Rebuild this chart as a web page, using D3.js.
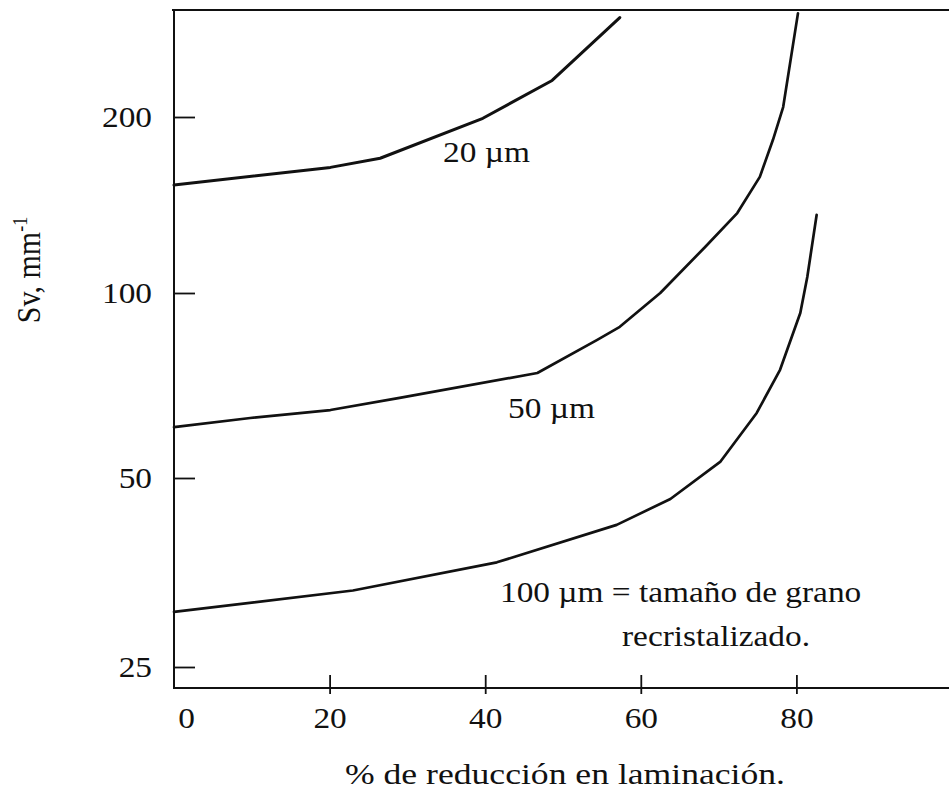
<!DOCTYPE html>
<html>
<head>
<meta charset="utf-8">
<script src="https://cdn.jsdelivr.net/npm/d3@7"></script>
<style>
  html, body { margin: 0; padding: 0; background: #fff; }
  svg { display: block; }
  text { font-family: "Liberation Serif", "Times New Roman", serif; fill: #111; }
</style>
</head>
<body>
<svg id="chart" width="949" height="796"></svg>
<script>
// ---- data ----
const xTicks = [0, 20, 40, 60, 80];
const yTicks = [25, 50, 100, 200];

const red20 = [0, 20.1, 26.5, 39.7, 48.6, 57.3];
const sv20  = [153, 164, 170, 199, 231, 296];

const red50 = [0, 9.8, 20.1, 29.0, 46.7, 54.4, 57.3, 62.5, 68.3, 72.4, 75.3, 77.0, 78.3, 80.2];
const sv50  = [60.5, 62.6, 64.5, 67.5, 74.1, 83.9, 88.1, 100, 120, 137, 158, 183, 208, 301];

const red100 = [0, 23.0, 41.5, 56.9, 63.8, 70.2, 74.9, 77.9, 80.5, 81.4, 82.6];
const sv100  = [30.6, 33.1, 36.7, 42.1, 46.3, 53.1, 63.8, 75.0, 92.8, 106.5, 136];

const seriesLabels = ["20 µm", "50 µm", "100 µm = tamaño de grano", "recristalizado."];
const xTitle = "% de reducción en laminación.";
const yTitle = "Sv, mm";
const yTitleSup = "-1";

// ---- layout ----
const svg = d3.select("#chart");
const STRETCH = 1.15;

const x = d3.scaleLinear().domain([0, 100]).range([174, 952]);
// piecewise log scale following the (slightly uneven) decade spacing of the scan
const y = d3.scaleLog()
  .domain([23.2, 25, 50, 100, 200, 305])
  .range([688, 667, 478, 293, 117, 10]);

const [x0, x1] = x.range();
const yBottom = y(23.2), yTop = y(305);

// frame
svg.append("path")
  .attr("d", `M${x1},${yTop} H${x0 - 2} M${x0},${yTop} V${yBottom} H${x1}`)
  .attr("fill", "none").attr("stroke", "#111").attr("stroke-width", 2);

// y axis (inside ticks)
const gy = svg.append("g").attr("transform", `translate(${x0},0)`)
  .call(d3.axisLeft(y).tickValues(yTicks).tickFormat(d3.format("d"))
    .tickSizeInner(-21).tickSizeOuter(0).tickPadding(22));
gy.select(".domain").remove();
gy.selectAll(".tick line").attr("stroke", "#111").attr("stroke-width", 1.8);
gy.selectAll(".tick text").attr("font-size", 29).attr("fill", "#111")
  .attr("class", "stretch").attr("dy", "0.33em");

// x axis (small ticks crossing the axis)
const gx = svg.append("g").attr("transform", `translate(0,${yBottom})`)
  .call(d3.axisBottom(x).tickValues(xTicks).tickFormat(d3.format("d"))
    .tickSizeInner(-14).tickSizeOuter(0).tickPadding(19));
gx.select(".domain").remove();
gx.selectAll(".tick line").attr("stroke", "#111").attr("stroke-width", 1.8).attr("y2", -13).attr("y1", 6);
gx.selectAll(".tick").filter(d => d === 0).select("line").remove();
gx.selectAll(".tick text").attr("font-size", 29).attr("fill", "#111")
  .attr("class", "stretch").attr("dx", d => d === 0 ? 12 : 0);

// curves
const line = d3.line().x(d => x(d[0])).y(d => y(d[1])).curve(d3.curveLinear);
const curves = [
  d3.zip(red20, sv20),
  d3.zip(red50, sv50),
  d3.zip(red100, sv100)
];
svg.append("g").selectAll("path").data(curves).join("path")
  .attr("d", line)
  .attr("fill", "none").attr("stroke", "#111")
  .attr("stroke-width", (d, i) => i === 0 ? 3 : 2.7)
  .attr("stroke-linejoin", "round").attr("stroke-linecap", "round");

// curve labels
const labelPos = [
  { x: 443, y: 162, anchor: "start" },
  { x: 508, y: 418, anchor: "start" },
  { x: 500, y: 602, anchor: "start" },
  { x: 716, y: 646, anchor: "middle" }
];
svg.append("g").selectAll("text").data(seriesLabels).join("text")
  .attr("x", (d, i) => labelPos[i].x)
  .attr("y", (d, i) => labelPos[i].y)
  .attr("text-anchor", (d, i) => labelPos[i].anchor)
  .attr("font-size", 29)
  .attr("class", "stretch")
  .text(d => d);

// x title
svg.append("text")
  .attr("x", 565).attr("y", 784)
  .attr("text-anchor", "middle")
  .attr("font-size", 30)
  .attr("textLength", 440).attr("lengthAdjust", "spacingAndGlyphs")
  .text(xTitle);

// y title (rotated)
const yt = svg.append("text")
  .attr("transform", `translate(40,270) scale(${STRETCH},1) rotate(-90)`)
  .attr("text-anchor", "middle")
  .attr("font-size", 30);
yt.append("tspan").text(yTitle);
yt.append("tspan").attr("dy", -11).attr("font-size", 18).text(yTitleSup);

// horizontal stretch of the scanned lettering
svg.selectAll("text.stretch").each(function () {
  const w = this.getComputedTextLength();
  d3.select(this).attr("textLength", w * STRETCH).attr("lengthAdjust", "spacingAndGlyphs");
});
</script>
</body>
</html>
